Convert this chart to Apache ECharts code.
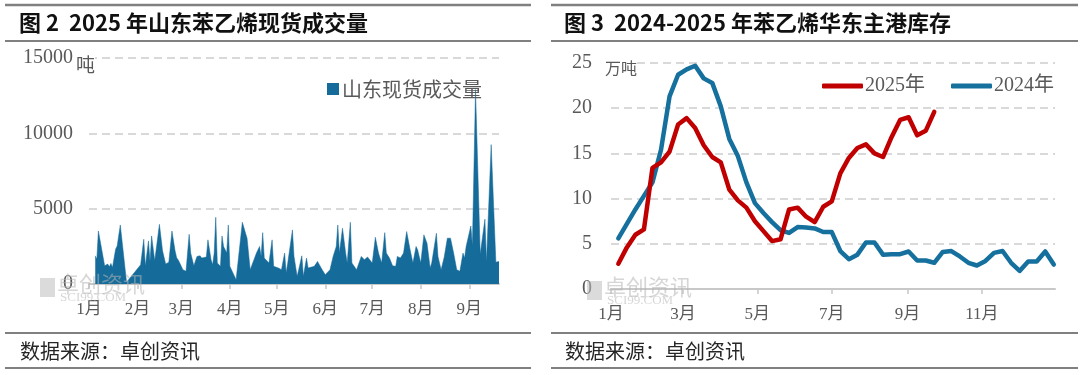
<!DOCTYPE html>
<html>
<head>
<meta charset="utf-8">
<script src="https://cdn.jsdelivr.net/npm/echarts@6/dist/echarts.min.js"></script>
<style>
html, body { margin: 0; padding: 0; background: #fff; }
#main { width: 1080px; height: 375px; }
</style>
</head>
<body>
<div id="main"></div>
<script>
// 图2 山东现货成交量（吨），按日
var shandongDays = [
    "01-05", "01-06", "01-07", "01-08", "01-11", "01-13", "01-14", "01-15", "01-16", "01-18",
    "01-19", "01-21", "01-25", "02-03", "02-04", "02-05", "02-06", "02-08", "02-09", "02-10",
    "02-12", "02-15", "02-17", "02-19", "02-21", "02-23", "02-25", "02-26", "02-27", "02-28",
    "03-02", "03-04", "03-06", "03-07", "03-09", "03-10", "03-11", "03-13", "03-14", "03-15",
    "03-17", "03-18", "03-20", "03-21", "03-22", "03-23", "03-24", "03-26", "03-27", "03-28",
    "03-30", "03-31", "04-01", "04-03", "04-05", "04-09", "04-11", "04-12", "04-14", "04-16",
    "04-18", "04-20", "04-21", "04-22", "04-23", "04-24", "04-26", "04-28", "04-29", "05-02",
    "05-04", "05-05", "05-06", "05-07", "05-08", "05-11", "05-12", "05-14", "05-15", "05-17",
    "05-18", "05-20", "05-21", "05-25", "05-27", "05-28", "05-30", "06-01", "06-04", "06-06",
    "06-08", "06-09", "06-10", "06-12", "06-14", "06-15", "06-17", "06-18", "06-21", "06-24",
    "06-26", "06-28", "06-29", "07-01", "07-03", "07-05", "07-07", "07-09", "07-10", "07-12",
    "07-14", "07-16", "07-17", "07-19", "07-21", "07-23", "07-25", "07-27", "07-28", "07-29",
    "07-30", "08-01", "08-03", "08-05", "08-07", "08-08", "08-11", "08-12", "08-14", "08-16",
    "08-18", "08-19", "08-20", "08-22", "08-24", "08-26", "08-28", "08-29", "08-30", "09-02",
    "09-03", "09-05", "09-08", "09-11", "09-12", "09-15", "09-18", "09-20"
];
var shandongVolume = [
    1870, 1650, 3520, 3560, 1210, 1320, 1140, 1365, 1100, 2310,
    2530, 3920, 110, 1280, 1280, 2970, 1170, 2860, 1500, 3190,
    1540, 3960, 2200, 1320, 1450, 3520, 2200, 1750, 1600, 1390,
    950, 840, 3300, 2050, 1210, 1280, 1830, 1870, 1720, 1720,
    1790, 2930, 1610, 1280, 2050, 4430, 1390, 1170, 3190, 2490,
    2050, 3920, 1170, 730, 290, 4100, 3380, 3040, 950, 1500,
    2050, 2490, 1830, 3410, 1720, 1830, 1390, 2930, 1170, 1060,
    950, 840, 2050, 730, 1390, 3590, 1830, 510, 950, 1870,
    510, 1720, 1060, 1170, 1500, 1390, 950, 620, 950, 1830,
    2490, 3920, 2050, 3700, 2050, 1390, 4100, 1390, 950, 1830,
    1610, 1790, 1720, 1390, 3100, 2050, 1390, 3410, 2050, 1720,
    1210, 1170, 1830, 1720, 2050, 3480, 2380, 1390, 1280, 2490,
    2270, 1390, 3260, 2710, 1060, 1390, 3370, 1830, 950, 1790,
    3040, 2930, 3040, 2050, 950, 840, 2050, 1720, 2490, 3850,
    2530, 12900, 1980, 4300, 1450, 9250, 1450, 1500
];
var leftMonths = ["01-01", "02-01", "03-01", "04-01", "05-01", "06-01", "07-01", "08-01", "09-01"];

// 图3 华东主港库存（万吨），按周
var weekDays = [
    "01-07", "01-14", "01-21", "01-28", "02-04", "02-11", "02-18", "02-25", "03-04", "03-11",
    "03-18", "03-25", "04-01", "04-08", "04-15", "04-22", "04-29", "05-06", "05-13", "05-20",
    "05-27", "06-03", "06-10", "06-17", "06-24", "07-01", "07-08", "07-15", "07-22", "07-29",
    "08-05", "08-12", "08-19", "08-26", "09-02", "09-09", "09-16", "09-23", "09-30", "10-07",
    "10-14", "10-21", "10-28", "11-04", "11-11", "11-18", "11-25", "12-02", "12-09", "12-16",
    "12-23", "12-30"
];
var stock2024 = [
    5.6, 7.2, 8.8, 10.3, 11.8, 15.4, 21.3, 23.7, 24.3, 24.7,
    23.3, 22.8, 20.2, 16.6, 14.7, 11.8, 9.5, 8.4, 7.4, 6.5,
    6.2, 6.85, 6.8, 6.7, 6.3, 6.3, 4.2, 3.3, 3.8, 5.15,
    5.15, 3.8, 3.85, 3.85, 4.15, 3.15, 3.15, 2.9, 4.1, 4.2,
    3.6, 2.9, 2.6, 3.1, 4.0, 4.2, 2.9, 2.0, 3.05, 3.05,
    4.15, 2.7
];
var stock2025 = [
    2.8, 4.6, 6.0, 6.6, 13.4, 14.0, 15.2, 18.2, 18.9, 17.8,
    15.9, 14.6, 14.0, 11.0, 9.8, 9.0, 7.5, 6.4, 5.3, 5.5,
    8.8, 9.0, 8.0, 7.4, 9.1, 9.7, 12.8, 14.5, 15.6, 16.0,
    15.0, 14.6, 16.8, 18.7, 19.0, 17.0, 17.5, 19.6
];
var rightMonths = ["01-01", "03-01", "05-01", "07-01", "09-01", "11-01"];

var chart = echarts.init(document.getElementById("main"));

// 月-日 转成年内第几天（1月1日为0）
var DAY = 86400000;
var toDay = function (md) {
    var p = md.split("-");
    return (Date.UTC(2025, +p[0] - 1, +p[1]) - Date.UTC(2025, 0, 1)) / DAY;
};
var pairs = function (days, vals) {
    return vals.map(function (v, i) { return [toDay(days[i]), v]; });
};
var monthLabel = function (v) {
    return (new Date(Date.UTC(2025, 0, 1) + v * DAY).getUTCMonth() + 1) + "月";
};

var gray = "#595959";
var serif = "'Liberation Serif', 'Noto Sans CJK SC', serif";
var sans = "'Noto Sans CJK SC', sans-serif";
var ruleColor = "#808080";

// 轴的公共样式
var xAxisBase = function (max, months, gridIndex) {
    var ticks = months.map(toDay);
    return {
        type: "value",
        gridIndex: gridIndex,
        min: 0,
        max: toDay(max),
        axisLine: { onZero: false, lineStyle: { color: "#c8c8c8", width: 2 } },
        axisTick: { show: true, length: 5, lineStyle: { color: "#c8c8c8", width: 1.5 }, customValues: ticks },
        axisLabel: {
            customValues: ticks,
            formatter: monthLabel,
            color: gray,
            fontFamily: serif,
            fontSize: 17,
            margin: 17
        },
        splitLine: { show: false }
    };
};
var yAxisBase = function (max, interval, gridIndex, margin) {
    return {
        type: "value",
        gridIndex: gridIndex,
        min: 0,
        max: max,
        interval: interval,
        axisLine: { show: false },
        axisTick: { show: false },
        axisLabel: {
            color: gray, fontFamily: serif, fontSize: 20, margin: margin,
            formatter: function (v) { return String(v); }
        },
        splitLine: { lineStyle: { color: "#d9d9d9", width: 2, type: [8, 5] } }
    };
};

var hline = function (x1, x2, y, w) {
    return { type: "line", shape: { x1: x1, y1: y, x2: x2, y2: y }, style: { stroke: ruleColor, lineWidth: w } };
};
var txt = function (x, y, s, size, color, font, weight, bg) {
    return {
        type: "text", x: x, y: y, z: 50,
        style: {
            text: s, fontSize: size, fill: color, fontFamily: font, fontWeight: weight || "normal",
            verticalAlign: "middle", backgroundColor: bg || "transparent"
        }
    };
};
// 卓创水印
var watermark = function (x, y) {
    return [
        { type: "rect", shape: { x: x, y: y, width: 15, height: 19 }, style: { fill: "rgba(190,190,190,0.55)" }, z: 40 },
        txt(x + 17, y + 6, "卓创资讯", 22, "rgba(180,180,180,0.55)", sans),
        txt(x + 20, y + 20, "SCI99.COM", 13, "rgba(180,180,180,0.55)", serif)
    ];
};

var option = {
    backgroundColor: "#fff",
    animation: false,
    grid: [
        { left: 89, top: 58, width: 410, height: 226 },
        { left: 611, top: 63, width: 444, height: 226 }
    ],
    xAxis: [
        xAxisBase("09-20", leftMonths, 0),
        xAxisBase("12-31", rightMonths, 1)
    ],
    yAxis: [
        yAxisBase(15000, 5000, 0, 16),
        yAxisBase(25, 5, 1, 19)
    ],
    legend: [
        {
            data: ["山东现货成交量"],
            left: 322, top: 74,
            icon: "rect", itemWidth: 12, itemHeight: 12,
            textStyle: { color: gray, fontSize: 20, fontFamily: sans, padding: [0, 0, 0, -2] }
        },
        {
            data: ["2025年", "2024年"],
            left: 817, top: 71,
            icon: "roundRect", itemWidth: 41, itemHeight: 5, itemGap: 26,
            textStyle: { color: gray, fontSize: 20, fontFamily: serif, padding: [0, 0, 0, -3] }
        }
    ],
    series: [
        {
            name: "山东现货成交量",
            type: "line",
            xAxisIndex: 0, yAxisIndex: 0,
            data: pairs(shandongDays, shandongVolume),
            symbol: "none",
            itemStyle: { color: "#156b9a" },
            lineStyle: { width: 0.5, color: "#156b9a" },
            areaStyle: { color: "#156b9a", opacity: 1 }
        },
        {
            name: "2024年",
            type: "line",
            xAxisIndex: 1, yAxisIndex: 1,
            data: pairs(weekDays, stock2024),
            symbol: "none",
            itemStyle: { color: "#15709e" },
            lineStyle: { width: 4.5, color: "#15709e", cap: "round", join: "round" }
        },
        {
            name: "2025年",
            type: "line",
            xAxisIndex: 1, yAxisIndex: 1,
            data: pairs(weekDays.slice(0, stock2025.length), stock2025),
            symbol: "none",
            itemStyle: { color: "#c00000" },
            lineStyle: { width: 4.5, color: "#c00000", cap: "round", join: "round" }
        }
    ],
    graphic: [
        // 标题和分隔线
        hline(5, 531, 5, 2.5), hline(5, 531, 41, 2),
        hline(5, 531, 333, 2), hline(5, 531, 368, 2),
        hline(551, 1078, 5, 2.5), hline(551, 1078, 41, 2),
        hline(551, 1078, 333, 2), hline(551, 1078, 368, 2),
        txt(19, 23, "图 2  2025 年山东苯乙烯现货成交量", 22, "#111", sans, "bold"),
        txt(564, 23, "图 3  2024-2025 年苯乙烯华东主港库存", 22, "#111", sans, "bold"),
        txt(20, 351, "数据来源：卓创资讯", 20, "#262626", sans),
        txt(565, 351, "数据来源：卓创资讯", 20, "#262626", sans),
        // 单位
        txt(76, 65, "吨", 19, gray, sans, "normal", "#fff"),
        txt(605, 68, "万吨", 16, gray, sans, "normal", "#fff")
    ].concat(watermark(40, 278), watermark(587, 281))
};

chart.setOption(option);

window.addEventListener("resize", function () {
    chart.resize();
});
</script>
</body>
</html>
